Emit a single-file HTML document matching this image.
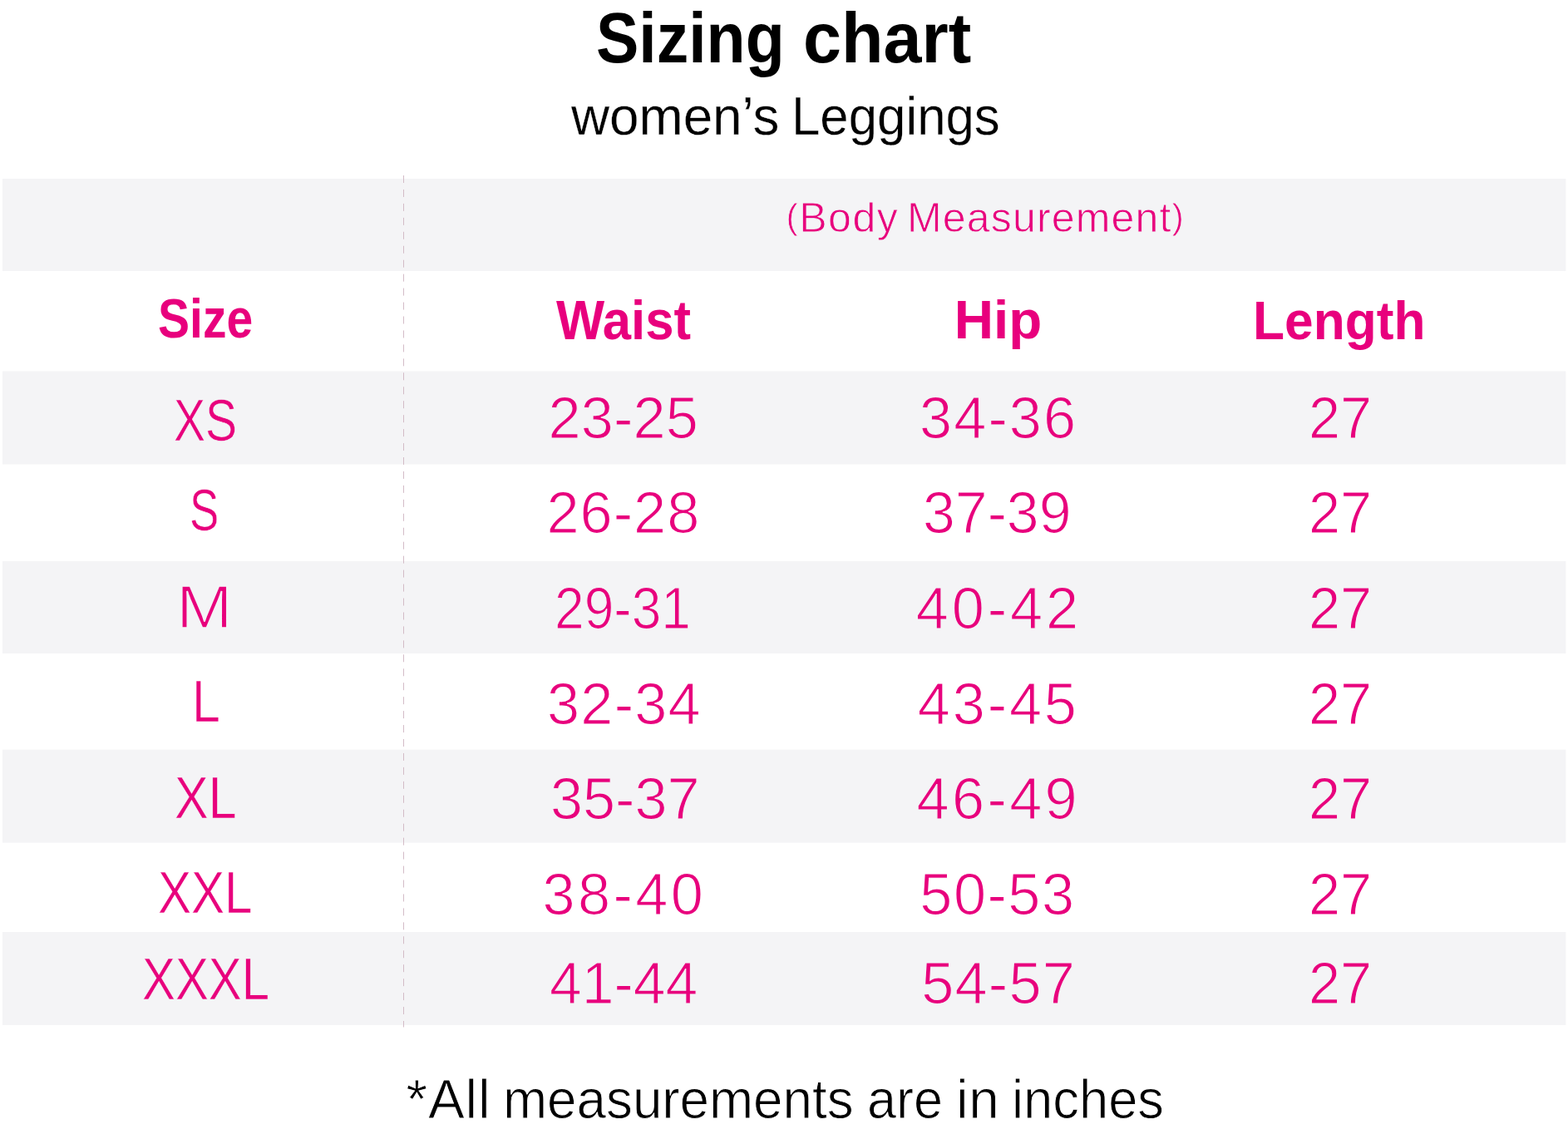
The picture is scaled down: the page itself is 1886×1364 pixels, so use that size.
<!DOCTYPE html>
<html lang="en">
<head>
<meta charset="utf-8">
<title>Sizing chart - women’s Leggings</title>
<style>
html,body{margin:0;padding:0;background:#fff}
body{width:1886px;height:1364px;position:relative;overflow:hidden;font-family:"Liberation Sans",sans-serif;font-weight:400}
h1,h2,p,div,header,main{margin:0;padding:0}
h1,h2{font-weight:400}
.w{position:absolute;white-space:pre;transform-origin:0 0}
.k{color:#000}
.p{color:#e8007d}
.b{font-weight:700}
svg{position:absolute;left:0;top:0}
.pr{font-size:.86em;position:relative;top:-.1em}
</style>
</head>
<body>
<svg width="1886" height="1364" viewBox="0 0 1886 1364" aria-hidden="true"><rect x="3" y="215" width="1880.4" height="111" fill="#f4f4f6"/><rect x="3" y="446.5" width="1880.4" height="112" fill="#f4f4f6"/><rect x="3" y="675" width="1880.4" height="111" fill="#f4f4f6"/><rect x="3" y="901.6" width="1880.4" height="112" fill="#f4f4f6"/><rect x="3" y="1121" width="1880.4" height="112" fill="#f4f4f6"/><line x1="485.5" y1="211" x2="485.5" y2="1235.5" stroke="#cfb4c1" stroke-width="0.9" stroke-dasharray="9 7.95"/></svg>
<header>
<h1 class="k b" style="font-size:84.5px;line-height:84.5px"><span class="w" style="left:717.35px;top:4px;transform:scaleX(0.9111)">Sizing</span> <span class="w" style="left:966.02px;top:4px;transform:scaleX(0.9787)">chart</span></h1>
<h2 class="k" style="font-size:64.3px;line-height:64.3px;-webkit-text-stroke:0.3px #fff"><span class="w" style="left:686.97px;top:108px;transform:scaleX(0.9919)">women’s</span> <span class="w" style="left:951.76px;top:108px;transform:scaleX(0.9607)">Leggings</span></h2>
</header>
<main>
<div role="table" aria-label="Sizing chart">
<p class="p" style="font-size:50px;line-height:50px;-webkit-text-stroke:0.8px #f4f4f6"><span class="w" style="left:945.45px;top:237px;letter-spacing:1.488px"><span class="pr">(</span>Body</span> <span class="w" style="left:1091.02px;top:237px;letter-spacing:1.162px">Measurement<span class="pr">)</span></span></p>
<div role="row">
<div class="p b" role="columnheader" style="font-size:66px;line-height:66px"><span class="w" style="left:189.77px;top:350px;transform:scaleX(0.8641)">Size</span></div>
<div class="p b" role="columnheader" style="font-size:66px;line-height:66px"><span class="w" style="left:669.49px;top:352px;transform:scaleX(0.9333)">Waist</span></div>
<div class="p b" role="columnheader" style="font-size:65.5px;line-height:65.5px"><span class="w" style="left:1147.74px;top:352px;letter-spacing:0.069px">Hip</span></div>
<div class="p b" role="columnheader" style="font-size:65.5px;line-height:65.5px"><span class="w" style="left:1507.40px;top:353px;transform:scaleX(0.9504)">Length</span></div>
</div>
<div role="row">
<div class="p" role="cell" style="font-size:70.4px;line-height:70.4px;-webkit-text-stroke:0.6px #f4f4f6"><span class="w" style="left:208.56px;top:471px;transform:scaleX(0.8094)">XS</span></div>
<div class="p" role="cell" style="font-size:70.3px;line-height:70.3px;-webkit-text-stroke:1.2px #f4f4f6"><span class="w" style="left:659.59px;top:468px;letter-spacing:0.130px">23-25</span></div>
<div class="p" role="cell" style="font-size:70.3px;line-height:70.3px;-webkit-text-stroke:1.2px #f4f4f6"><span class="w" style="left:1106.10px;top:468px;letter-spacing:2.052px">34-36</span></div>
<div class="p" role="cell" style="font-size:70.3px;line-height:70.3px;-webkit-text-stroke:1.2px #f4f4f6"><span class="w" style="left:1573.94px;top:468px;transform:scaleX(0.9746)">27</span></div>
</div>
<div role="row">
<div class="p" role="cell" style="font-size:70.4px;line-height:70.4px;-webkit-text-stroke:0.6px #fff"><span class="w" style="left:228.12px;top:579px;transform:scaleX(0.7510)">S</span></div>
<div class="p" role="cell" style="font-size:70.3px;line-height:70.3px;-webkit-text-stroke:1.2px #fff"><span class="w" style="left:657.47px;top:582px;letter-spacing:1.000px">26-28</span></div>
<div class="p" role="cell" style="font-size:70.3px;line-height:70.3px;-webkit-text-stroke:1.2px #fff"><span class="w" style="left:1110.44px;top:582px;transform:scaleX(0.9928)">37-39</span></div>
<div class="p" role="cell" style="font-size:70.3px;line-height:70.3px;-webkit-text-stroke:1.2px #fff"><span class="w" style="left:1573.94px;top:582px;transform:scaleX(0.9747)">27</span></div>
</div>
<div role="row">
<div class="p" role="cell" style="font-size:71.4px;line-height:71.4px;-webkit-text-stroke:1.6px #f4f4f6"><span class="w" style="left:212.08px;top:695px;transform:scaleX(1.1371)">M</span></div>
<div class="p" role="cell" style="font-size:70.3px;line-height:70.3px;-webkit-text-stroke:1.2px #f4f4f6"><span class="w" style="left:666.60px;top:697px;transform:scaleX(0.9117)">29-31</span></div>
<div class="p" role="cell" style="font-size:70.3px;line-height:70.3px;-webkit-text-stroke:1.2px #f4f4f6"><span class="w" style="left:1101.73px;top:697px;letter-spacing:3.868px">40-42</span></div>
<div class="p" role="cell" style="font-size:70.3px;line-height:70.3px;-webkit-text-stroke:1.2px #f4f4f6"><span class="w" style="left:1573.94px;top:697px;transform:scaleX(0.9746)">27</span></div>
</div>
<div role="row">
<div class="p" role="cell" style="font-size:70.4px;line-height:70.4px;-webkit-text-stroke:0.6px #fff"><span class="w" style="left:230.52px;top:809px;transform:scaleX(0.8660)">L</span></div>
<div class="p" role="cell" style="font-size:70.3px;line-height:70.3px;-webkit-text-stroke:1.2px #fff"><span class="w" style="left:658.09px;top:812px;letter-spacing:1.198px">32-34</span></div>
<div class="p" role="cell" style="font-size:70.3px;line-height:70.3px;-webkit-text-stroke:1.2px #fff"><span class="w" style="left:1103.80px;top:812px;letter-spacing:2.826px">43-45</span></div>
<div class="p" role="cell" style="font-size:70.3px;line-height:70.3px;-webkit-text-stroke:1.2px #fff"><span class="w" style="left:1573.94px;top:812px;transform:scaleX(0.9747)">27</span></div>
</div>
<div role="row">
<div class="p" role="cell" style="font-size:70.4px;line-height:70.4px;-webkit-text-stroke:0.6px #f4f4f6"><span class="w" style="left:209.88px;top:925px;transform:scaleX(0.8657)">XL</span></div>
<div class="p" role="cell" style="font-size:70.3px;line-height:70.3px;-webkit-text-stroke:1.2px #f4f4f6"><span class="w" style="left:661.96px;top:926px;transform:scaleX(0.9988)">35-37</span></div>
<div class="p" role="cell" style="font-size:70.3px;line-height:70.3px;-webkit-text-stroke:1.2px #f4f4f6"><span class="w" style="left:1102.58px;top:926px;letter-spacing:3.327px">46-49</span></div>
<div class="p" role="cell" style="font-size:70.3px;line-height:70.3px;-webkit-text-stroke:1.2px #f4f4f6"><span class="w" style="left:1573.94px;top:926px;transform:scaleX(0.9746)">27</span></div>
</div>
<div role="row">
<div class="p" role="cell" style="font-size:70.4px;line-height:70.4px;-webkit-text-stroke:0.6px #fff"><span class="w" style="left:190.39px;top:1039px;transform:scaleX(0.8532)">XXL</span></div>
<div class="p" role="cell" style="font-size:70.3px;line-height:70.3px;-webkit-text-stroke:1.2px #fff"><span class="w" style="left:652.61px;top:1041px;letter-spacing:3.373px">38-40</span></div>
<div class="p" role="cell" style="font-size:70.3px;line-height:70.3px;-webkit-text-stroke:1.2px #fff"><span class="w" style="left:1106.35px;top:1041px;letter-spacing:1.463px">50-53</span></div>
<div class="p" role="cell" style="font-size:70.3px;line-height:70.3px;-webkit-text-stroke:1.2px #fff"><span class="w" style="left:1573.94px;top:1041px;transform:scaleX(0.9747)">27</span></div>
</div>
<div role="row">
<div class="p" role="cell" style="font-size:70.4px;line-height:70.4px;-webkit-text-stroke:0.6px #f4f4f6"><span class="w" style="left:170.94px;top:1143px;transform:scaleX(0.8502)">XXXL</span></div>
<div class="p" role="cell" style="font-size:70.3px;line-height:70.3px;-webkit-text-stroke:1.2px #f4f4f6"><span class="w" style="left:661.13px;top:1148px;transform:scaleX(0.9909)">41-44</span></div>
<div class="p" role="cell" style="font-size:70.3px;line-height:70.3px;-webkit-text-stroke:1.2px #f4f4f6"><span class="w" style="left:1108.18px;top:1148px;letter-spacing:1.231px">54-57</span></div>
<div class="p" role="cell" style="font-size:70.3px;line-height:70.3px;-webkit-text-stroke:1.2px #f4f4f6"><span class="w" style="left:1573.94px;top:1148px;transform:scaleX(0.9746)">27</span></div>
</div>
</div>
<p class="k" style="font-size:65.75px;line-height:65.75px;-webkit-text-stroke:0.9px #fff"><span class="w" style="left:488.57px;top:1290px;letter-spacing:0.765px">*All</span> <span class="w" style="left:604.90px;top:1290px;transform:scaleX(0.9695)">measurements</span> <span class="w" style="left:1042.95px;top:1290px;transform:scaleX(0.9584)">are</span> <span class="w" style="left:1150.12px;top:1290px;letter-spacing:0.608px">in</span> <span class="w" style="left:1217.35px;top:1290px;transform:scaleX(0.9629)">inches</span></p>
</main>
</body>
</html>
